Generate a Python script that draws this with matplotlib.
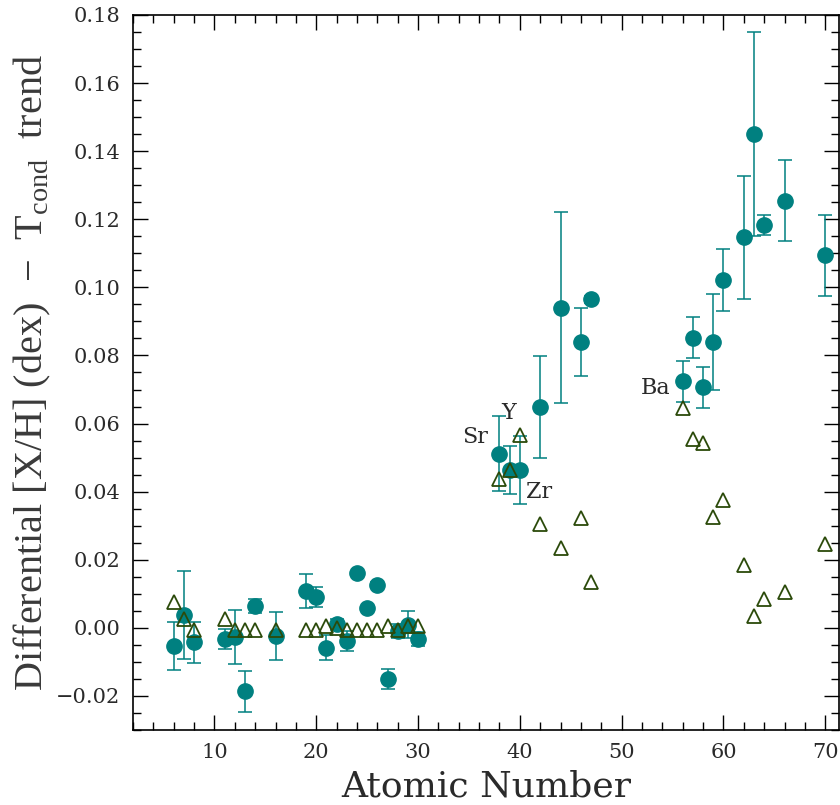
import matplotlib
matplotlib.use('Agg')
from matplotlib import pyplot as plt
from matplotlib.ticker import MultipleLocator, FuncFormatter

# atomic numbers of the elements
z = [6, 7, 8, 11, 12, 13, 14, 16, 19, 20, 21, 22, 23, 24, 25, 26, 27, 28, 29, 30,
     38, 39, 40, 42, 44, 46, 47, 56, 57, 58, 59, 60, 62, 63, 64, 66, 70]

# differential abundance after removing Tcond trend (filled circles)
xh = [-0.0053, 0.0038, -0.0043, -0.0033, -0.0027, -0.0186, 0.0065, -0.0024, 0.0109, 0.0091,
      -0.0058, 0.0011, -0.0038, 0.0160, 0.0057, 0.0126, -0.0151, -0.0009, 0.0009, -0.0032,
      0.0512, 0.0463, 0.0463, 0.0648, 0.0940, 0.0839, 0.0965, 0.0724, 0.0852, 0.0707,
      0.0840, 0.1022, 0.1147, 0.1450, 0.1184, 0.1255, 0.1094]
err = [0.007, 0.013, 0.006, 0.003, 0.008, 0.006, 0.002, 0.007, 0.005, 0.003,
       0.0037, 0.0016, 0.003, 0.0008, 0.0008, 0.0008, 0.003, 0.002, 0.004, 0.002,
       0.011, 0.007, 0.010, 0.015, 0.028, 0.010, 0.001, 0.006, 0.006, 0.006,
       0.014, 0.009, 0.018, 0.030, 0.003, 0.012, 0.012]

# model values (open triangles)
model = [0.0075, 0.0025, -0.0006, 0.0025, -0.0006, -0.0006, -0.0006, -0.0006, -0.0006, -0.0006,
         0.0006, 0.0001, -0.0006, -0.0006, -0.0006, -0.0006, 0.0006, -0.0006, 0.0006, 0.0006,
         0.0436, 0.0465, 0.0565, 0.0304, 0.0235, 0.0324, 0.0134, 0.0645, 0.0554, 0.0544,
         0.0325, 0.0375, 0.0185, 0.0034, 0.0084, 0.0104, 0.0245]

labels = ['Sr', 'Y', 'Zr', 'Ba']
label_x = [35.6, 38.9, 41.9, 53.3]
label_y = [0.0560, 0.0631, 0.0400, 0.0705]

plt.rcParams['font.family'] = ['DejaVu Serif']
plt.rcParams['mathtext.fontset'] = 'custom'
plt.rcParams['mathtext.rm'] = 'Liberation Serif'

teal = '#008080'
green = '#2b4a0a'
txt = '#2a2a2a'

fig = plt.figure(figsize=(8.4, 8.05), dpi=100)
ax = fig.add_axes([133 / 840, 75 / 805, 706 / 840, 715 / 805])

ax.errorbar(z, xh, yerr=err, fmt='o', color=teal, ecolor=teal, markersize=11,
            elinewidth=1.1, capsize=5, capthick=1.1, zorder=2)
ax.plot(z, model, '^', markersize=10.5, markerfacecolor='none', markeredgecolor=green,
        markeredgewidth=1.3, zorder=3)

for t, lx, ly in zip(labels, label_x, label_y):
    ax.text(lx, ly, t, fontsize=16, ha='center', va='center', color=txt)

ax.set_xlim(2, 71.35)
ax.set_ylim(-0.03, 0.18)
ax.xaxis.set_major_locator(MultipleLocator(10))
ax.xaxis.set_minor_locator(MultipleLocator(2))
ax.yaxis.set_major_locator(MultipleLocator(0.02))
ax.yaxis.set_minor_locator(MultipleLocator(0.005))
ax.yaxis.set_major_formatter(FuncFormatter(lambda v, p: ('%.2f' % v).replace('-', '\u2212')))
ax.tick_params(which='both', direction='in', top=True, right=True, width=1)
ax.tick_params(which='major', length=11, labelsize=15, pad=9, labelcolor=txt)
ax.tick_params(which='minor', length=6)
for s in ax.spines.values():
    s.set_linewidth(1.2)

ax.set_xlabel('Atomic Number', fontsize=26, labelpad=6, color=txt)
ax.set_ylabel('Differential [X/H] (dex)  \u2212  T$_{\\rm cond}$  trend', fontsize=29,
              family='Liberation Serif', color='#3a3a3a')
ax.yaxis.set_label_coords(-0.114, 0.5)

plt.savefig('out.png', dpi=100)
